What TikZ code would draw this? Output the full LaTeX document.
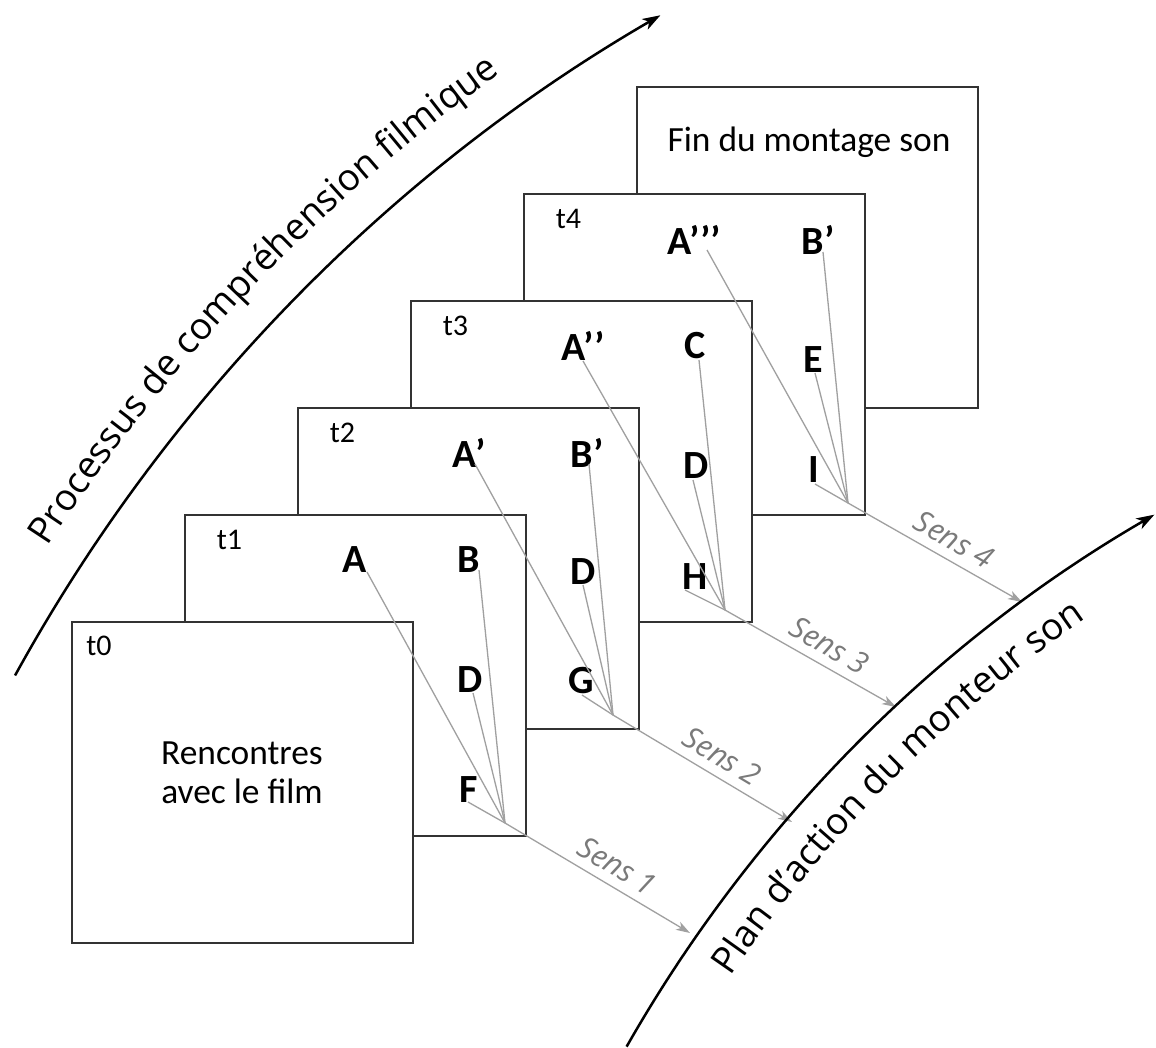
\documentclass[tikz,border=0pt]{standalone}
\usepackage{fontspec}
\setmainfont{Carlito}
\newfontfamily\curvefont{Open Sans}
\usetikzlibrary{arrows.meta,decorations.text,calc}
\definecolor{boxline}{HTML}{333333}
\definecolor{linkgray}{HTML}{A0A0A0}
\definecolor{sensgray}{HTML}{7A7A7A}
\begin{document}
\begin{tikzpicture}[x=0.5pt,y=-0.5pt,
  frame/.style={draw=boxline,line width=0.8pt,fill=white,minimum width=170.5pt,minimum height=160.5pt,inner sep=0pt},
  lbl/.style={font=\fontsize{20}{24}\selectfont\bfseries,inner sep=0pt},
  tlab/.style={font=\fontsize{15}{18}\selectfont,inner sep=0pt},
  body/.style={font=\fontsize{17.7}{19.5}\selectfont,align=center,inner sep=0pt},
  link/.style={draw=linkgray,line width=0.65pt},
  sens/.style={draw=linkgray,line width=0.65pt,-{Stealth[length=7pt,width=4.5pt,inset=2pt]}},
  senslab/.style={font=\fontsize{15}{18}\selectfont\curvefont\itshape,text=sensgray,sloped,above=2.5pt,inner sep=2pt,pos=0.55},
  bigarrow/.style={draw=black,line width=1.25pt,-{Stealth[length=9pt,width=6pt,inset=2.5pt]}}]
\useasboundingbox (0,0) rectangle (1156,1048);
\fill[white] (0,0) rectangle (1156,1048);

% frames, back to front
\node[frame] (f5) at (807.5,247.5) {};
\node[frame] (f4) at (694.5,354.5) {};
\node[frame] (f3) at (581.5,461.5) {};
\node[frame] (f2) at (468.5,568.5) {};
\node[frame] (f1) at (355.5,675.5) {};
\node[frame] (f0) at (242.5,782.5) {};

% texts in frames
\node[body] (fin) at (809,142) {Fin du montage son};
\node[body] (renc) at (242,773) {Rencontres\\avec le film};
\node[tlab] (t0) at (99,646) {t0};
\node[tlab] (t1) at (229.5,539.5) {t1};
\node[tlab] (t2) at (342.5,432.5) {t2};
\node[tlab] (t3) at (455.5,325.5) {t3};
\node[tlab] (t4) at (568.5,218.5) {t4};

% frame t1
\node[lbl] (a1) at (355,560) {A};
\node[lbl] (b1) at (469,560) {B};
\node[lbl] (d1) at (470,680) {D};
\node[lbl] (x1) at (469,790) {F};
\coordinate (c1) at (505,823);
\coordinate (s1) at (690,933);
% frame t2
\node[lbl] (a2) at (469,453) {A’};
\node[lbl] (b2) at (587,453) {B’};
\node[lbl] (d2) at (583,572) {D};
\node[lbl] (x2) at (581,681) {G};
\coordinate (c2) at (613,715);
\coordinate (s2) at (792,822);
% frame t3
\node[lbl] (a3) at (583,346) {A’’};
\node[lbl] (b3) at (695,346) {C};
\node[lbl] (d3) at (696,466) {D};
\node[lbl] (x3) at (695,577) {H};
\coordinate (c3) at (725,610);
\coordinate (s3) at (896,707);
% frame t4
\node[lbl] (a4) at (694,240) {A’’’};
\node[lbl] (b4) at (818,240) {B’};
\node[lbl] (d4) at (813,360) {E};
\node[lbl] (x4) at (814,470) {I};
\coordinate (c4) at (848,503);
\coordinate (s4) at (1022,602);

% links
\draw[link] ($(a1)+(12,12)$) -- (c1);
\draw[link] ($(b1)+(10,10)$) -- (c1);
\draw[link] ($(d1)+(3,13)$) -- (c1);
\draw[link] ($(x1)+(-1,12)$) -- (c1);
\draw[link] ($(a2)+(6,11)$) -- (c2);
\draw[link] ($(b2)+(2,11)$) -- (c2);
\draw[link] ($(d2)+(0,13)$) -- (c2);
\draw[link] ($(x2)+(1,14)$) -- (c2);
\draw[link] ($(a3)+(0,15)$) -- (c3);
\draw[link] ($(b3)+(4,14)$) -- (c3);
\draw[link] ($(d3)+(-3,14)$) -- (c3);
\draw[link] ($(x3)+(-10,13)$) -- (c3);
\draw[link] ($(a4)+(13,10)$) -- (c4);
\draw[link] ($(b4)+(5,12)$) -- (c4);
\draw[link] ($(d4)+(2,13)$) -- (c4);
\draw[link] ($(x4)+(1,14)$) -- (c4);

% sens arrows
\draw[sens] (c1) -- node[senslab] {Sens 1} (s1);
\draw[sens] (c2) -- node[senslab] {Sens 2} (s2);
\draw[sens] (c3) -- node[senslab] {Sens 3} (s3);
\draw[sens] (c4) -- node[senslab] {Sens 4} (s4);

% big curved arrows
\coordinate (uc) at (1524,1505);
\coordinate (lc) at (1874.5,1757);
\draw[bigarrow] ($(uc)+(208.8:1722)$) arc[start angle=208.8,end angle=239.9,radius=1722];
\draw[bigarrow] ($(lc)+(209.65:1436)$) arc[start angle=209.65,end angle=239.9,radius=1436];
\path[decorate,decoration={text along path,text align=center,
  text={|\fontsize{18.5}{22}\selectfont\curvefont|Processus de compréhension filmique}}]
  ($(uc)+(205:1760)$) arc[start angle=205,end angle=242.4,radius=1760];
\path[decorate,decoration={text along path,text align=center,
  text={|\fontsize{18.5}{22}\selectfont\curvefont|Plan d’action du monteur son}}]
  ($(lc)+(214:1385)$) arc[start angle=214,end angle=235.6,radius=1385];
\end{tikzpicture}
\end{document}
